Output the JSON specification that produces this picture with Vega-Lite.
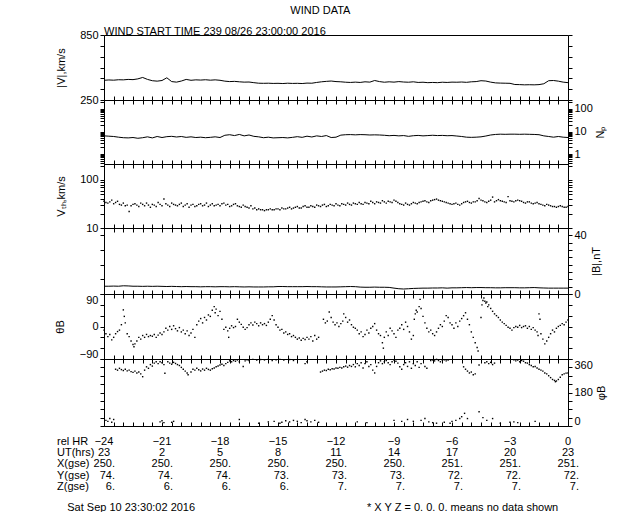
{
"$schema": "https://vega.github.io/schema/vega-lite/v6.json",
"autosize": {"type": "pad"},
"padding": {"left": 53, "top": 4, "right": 5, "bottom": 0},
"background": "white",
"title": {"text": "WIND DATA", "anchor": "middle", "fontSize": 11, "offset": 10, "dx": -10},
"spacing": 0,
"bounds": "flush",
"config": {
  "view": {"stroke": "black", "strokeWidth": 1},
  "font": "Liberation Sans",
  "axis": {"grid": false, "domain": false, "tickColor": "black", "labelColor": "black", "titleColor": "black", "labelFontSize": 11, "titleFontSize": 11, "titleFontWeight": "normal", "tickSize": 4, "labelPadding": 2, "labelFont": "Liberation Sans", "titleFont": "Liberation Sans", "labelOverlap": false},
  "title": {"font": "Liberation Sans", "fontSize": 11, "fontWeight": "normal", "color": "black"},
  "text": {"font": "Liberation Sans", "fontSize": 11, "color": "black"}
},
"datasets": {
  "V": [{"t":-24,"v":432},{"t":-23.75,"v":435},{"t":-23.5,"v":433},{"t":-23.25,"v":437},{"t":-23,"v":436},{"t":-22.75,"v":440},{"t":-22.5,"v":438},{"t":-22.25,"v":445},{"t":-22,"v":458},{"t":-21.75,"v":440},{"t":-21.5,"v":428},{"t":-21.25,"v":424},{"t":-21,"v":430},{"t":-20.75,"v":455},{"t":-20.5,"v":420},{"t":-20.25,"v":415},{"t":-20,"v":425},{"t":-19.75,"v":440},{"t":-19.5,"v":432},{"t":-19.25,"v":436},{"t":-19,"v":434},{"t":-18.75,"v":437},{"t":-18.5,"v":433},{"t":-18.25,"v":436},{"t":-18,"v":432},{"t":-17.75,"v":424},{"t":-17.5,"v":420},{"t":-17.25,"v":422},{"t":-17,"v":418},{"t":-16.75,"v":415},{"t":-16.5,"v":416},{"t":-16.25,"v":410},{"t":-16,"v":405},{"t":-15.75,"v":404},{"t":-15.5,"v":405},{"t":-15.25,"v":403},{"t":-15,"v":404},{"t":-14.75,"v":402},{"t":-14.5,"v":405},{"t":-14.25,"v":403},{"t":-14,"v":404},{"t":-13.75,"v":402},{"t":-13.5,"v":406},{"t":-13.25,"v":405},{"t":-13,"v":412},{"t":-12.75,"v":418},{"t":-12.5,"v":422},{"t":-12.25,"v":425},{"t":-12,"v":420},{"t":-11.75,"v":418},{"t":-11.5,"v":414},{"t":-11.25,"v":412},{"t":-11,"v":415},{"t":-10.75,"v":412},{"t":-10.5,"v":418},{"t":-10.25,"v":415},{"t":-10,"v":430},{"t":-9.75,"v":420},{"t":-9.5,"v":414},{"t":-9.25,"v":418},{"t":-9,"v":415},{"t":-8.75,"v":420},{"t":-8.5,"v":416},{"t":-8.25,"v":414},{"t":-8,"v":418},{"t":-7.75,"v":412},{"t":-7.5,"v":414},{"t":-7.25,"v":410},{"t":-7,"v":412},{"t":-6.75,"v":410},{"t":-6.5,"v":414},{"t":-6.25,"v":412},{"t":-6,"v":415},{"t":-5.75,"v":414},{"t":-5.5,"v":416},{"t":-5.25,"v":413},{"t":-5,"v":418},{"t":-4.75,"v":420},{"t":-4.5,"v":428},{"t":-4.25,"v":425},{"t":-4,"v":415},{"t":-3.75,"v":408},{"t":-3.5,"v":406},{"t":-3.25,"v":405},{"t":-3,"v":404},{"t":-2.75,"v":393},{"t":-2.5,"v":392},{"t":-2.25,"v":390},{"t":-2,"v":391},{"t":-1.75,"v":390},{"t":-1.5,"v":392},{"t":-1.25,"v":400},{"t":-1,"v":428},{"t":-0.75,"v":430},{"t":-0.5,"v":424},{"t":-0.25,"v":415},{"t":0,"v":410}],
  "Np": [{"t":-24,"v":6.4},{"t":-23.75,"v":6.2},{"t":-23.5,"v":6.0},{"t":-23.25,"v":5.6},{"t":-23,"v":5.3},{"t":-22.75,"v":5.2},{"t":-22.5,"v":5.4},{"t":-22.25,"v":5.0},{"t":-22,"v":5.3},{"t":-21.75,"v":5.8},{"t":-21.5,"v":5.2},{"t":-21.25,"v":6.0},{"t":-21,"v":5.4},{"t":-20.75,"v":5.9},{"t":-20.5,"v":6.1},{"t":-20.25,"v":5.7},{"t":-20,"v":6.0},{"t":-19.75,"v":5.5},{"t":-19.5,"v":5.8},{"t":-19.25,"v":5.4},{"t":-19,"v":5.6},{"t":-18.75,"v":5.3},{"t":-18.5,"v":5.5},{"t":-18.25,"v":5.8},{"t":-18,"v":5.4},{"t":-17.75,"v":6.8},{"t":-17.5,"v":7.2},{"t":-17.25,"v":6.6},{"t":-17,"v":7.4},{"t":-16.75,"v":6.4},{"t":-16.5,"v":7.0},{"t":-16.25,"v":6.1},{"t":-16,"v":5.8},{"t":-15.75,"v":5.3},{"t":-15.5,"v":5.6},{"t":-15.25,"v":5.2},{"t":-15,"v":5.3},{"t":-14.75,"v":5.4},{"t":-14.5,"v":5.2},{"t":-14.25,"v":5.5},{"t":-14,"v":5.9},{"t":-13.75,"v":5.5},{"t":-13.5,"v":6.2},{"t":-13.25,"v":5.7},{"t":-13,"v":6.4},{"t":-12.75,"v":6.0},{"t":-12.5,"v":6.6},{"t":-12.25,"v":5.4},{"t":-12,"v":5.6},{"t":-11.75,"v":6.9},{"t":-11.5,"v":7.2},{"t":-11.25,"v":7.3},{"t":-11,"v":7.1},{"t":-10.75,"v":7.3},{"t":-10.5,"v":7.2},{"t":-10.25,"v":7.0},{"t":-10,"v":7.1},{"t":-9.75,"v":7.0},{"t":-9.5,"v":6.8},{"t":-9.25,"v":6.5},{"t":-9,"v":6.7},{"t":-8.75,"v":6.4},{"t":-8.5,"v":6.6},{"t":-8.25,"v":6.1},{"t":-8,"v":6.5},{"t":-7.75,"v":6.7},{"t":-7.5,"v":6.4},{"t":-7.25,"v":6.6},{"t":-7,"v":6.8},{"t":-6.75,"v":6.6},{"t":-6.5,"v":6.7},{"t":-6.25,"v":6.5},{"t":-6,"v":6.6},{"t":-5.75,"v":6.3},{"t":-5.5,"v":6.0},{"t":-5.25,"v":5.6},{"t":-5,"v":5.5},{"t":-4.75,"v":5.6},{"t":-4.5,"v":5.8},{"t":-4.25,"v":6.3},{"t":-4,"v":7.0},{"t":-3.75,"v":7.4},{"t":-3.5,"v":7.6},{"t":-3.25,"v":7.5},{"t":-3,"v":7.6},{"t":-2.75,"v":7.6},{"t":-2.5,"v":7.5},{"t":-2.25,"v":7.6},{"t":-2,"v":7.5},{"t":-1.75,"v":7.4},{"t":-1.5,"v":7.2},{"t":-1.25,"v":6.4},{"t":-1,"v":6.0},{"t":-0.75,"v":5.6},{"t":-0.5,"v":6.0},{"t":-0.25,"v":5.6},{"t":0,"v":5.4}],
  "Vth": [{"t":-24,"v":36},{"t":-23.9,"v":34},{"t":-23.8,"v":33},{"t":-23.7,"v":35},{"t":-23.6,"v":38},{"t":-23.5,"v":32},{"t":-23.4,"v":34},{"t":-23.3,"v":36},{"t":-23.2,"v":31},{"t":-23.1,"v":30},{"t":-23,"v":33},{"t":-22.9,"v":29},{"t":-22.8,"v":30},{"t":-22.7,"v":22},{"t":-22.6,"v":29},{"t":-22.5,"v":31},{"t":-22.4,"v":32},{"t":-22.3,"v":30},{"t":-22.2,"v":28},{"t":-22.1,"v":33},{"t":-22,"v":31},{"t":-21.9,"v":29},{"t":-21.8,"v":33},{"t":-21.7,"v":30},{"t":-21.6,"v":27},{"t":-21.5,"v":31},{"t":-21.4,"v":30},{"t":-21.3,"v":28},{"t":-21.2,"v":34},{"t":-21.1,"v":31},{"t":-21,"v":29},{"t":-20.9,"v":40},{"t":-20.8,"v":32},{"t":-20.7,"v":30},{"t":-20.6,"v":28},{"t":-20.5,"v":33},{"t":-20.4,"v":31},{"t":-20.3,"v":30},{"t":-20.2,"v":29},{"t":-20.1,"v":31},{"t":-20,"v":33},{"t":-19.9,"v":28},{"t":-19.8,"v":30},{"t":-19.7,"v":32},{"t":-19.6,"v":27},{"t":-19.5,"v":30},{"t":-19.4,"v":31},{"t":-19.3,"v":28},{"t":-19.2,"v":29},{"t":-19.1,"v":31},{"t":-19,"v":32},{"t":-18.9,"v":29},{"t":-18.8,"v":30},{"t":-18.7,"v":33},{"t":-18.6,"v":28},{"t":-18.5,"v":30},{"t":-18.4,"v":32},{"t":-18.3,"v":29},{"t":-18.2,"v":30},{"t":-18.1,"v":31},{"t":-18,"v":29},{"t":-17.9,"v":32},{"t":-17.8,"v":33},{"t":-17.7,"v":30},{"t":-17.6,"v":31},{"t":-17.5,"v":28},{"t":-17.4,"v":29},{"t":-17.3,"v":31},{"t":-17.2,"v":32},{"t":-17.1,"v":29},{"t":-17,"v":28},{"t":-16.9,"v":27},{"t":-16.8,"v":30},{"t":-16.7,"v":28},{"t":-16.6,"v":27},{"t":-16.5,"v":26},{"t":-16.4,"v":29},{"t":-16.3,"v":25},{"t":-16.2,"v":26},{"t":-16.1,"v":24},{"t":-16,"v":25},{"t":-15.9,"v":24},{"t":-15.8,"v":24},{"t":-15.7,"v":23},{"t":-15.6,"v":24},{"t":-15.5,"v":24},{"t":-15.4,"v":25},{"t":-15.3,"v":24},{"t":-15.2,"v":24},{"t":-15.1,"v":25},{"t":-15,"v":25},{"t":-14.9,"v":24},{"t":-14.8,"v":26},{"t":-14.7,"v":25},{"t":-14.6,"v":25},{"t":-14.5,"v":26},{"t":-14.4,"v":27},{"t":-14.3,"v":25},{"t":-14.2,"v":26},{"t":-14.1,"v":27},{"t":-14,"v":28},{"t":-13.9,"v":26},{"t":-13.8,"v":26},{"t":-13.7,"v":28},{"t":-13.6,"v":29},{"t":-13.5,"v":27},{"t":-13.4,"v":27},{"t":-13.3,"v":29},{"t":-13.2,"v":28},{"t":-13.1,"v":27},{"t":-13,"v":30},{"t":-12.9,"v":29},{"t":-12.8,"v":28},{"t":-12.7,"v":30},{"t":-12.6,"v":31},{"t":-12.5,"v":28},{"t":-12.4,"v":29},{"t":-12.3,"v":31},{"t":-12.2,"v":30},{"t":-12.1,"v":29},{"t":-12,"v":32},{"t":-11.9,"v":30},{"t":-11.8,"v":29},{"t":-11.7,"v":32},{"t":-11.6,"v":31},{"t":-11.5,"v":30},{"t":-11.4,"v":33},{"t":-11.3,"v":31},{"t":-11.2,"v":30},{"t":-11.1,"v":33},{"t":-11,"v":32},{"t":-10.9,"v":31},{"t":-10.8,"v":34},{"t":-10.7,"v":32},{"t":-10.6,"v":31},{"t":-10.5,"v":34},{"t":-10.4,"v":33},{"t":-10.3,"v":32},{"t":-10.2,"v":36},{"t":-10.1,"v":34},{"t":-10,"v":32},{"t":-9.9,"v":35},{"t":-9.8,"v":34},{"t":-9.7,"v":33},{"t":-9.6,"v":37},{"t":-9.5,"v":35},{"t":-9.4,"v":33},{"t":-9.3,"v":36},{"t":-9.2,"v":35},{"t":-9.1,"v":34},{"t":-9,"v":38},{"t":-8.9,"v":36},{"t":-8.8,"v":34},{"t":-8.7,"v":32},{"t":-8.6,"v":31},{"t":-8.5,"v":30},{"t":-8.4,"v":33},{"t":-8.3,"v":31},{"t":-8.2,"v":30},{"t":-8.1,"v":32},{"t":-8,"v":34},{"t":-7.9,"v":33},{"t":-7.8,"v":32},{"t":-7.7,"v":34},{"t":-7.6,"v":35},{"t":-7.5,"v":36},{"t":-7.4,"v":37},{"t":-7.3,"v":35},{"t":-7.2,"v":34},{"t":-7.1,"v":37},{"t":-7,"v":38},{"t":-6.9,"v":39},{"t":-6.8,"v":40},{"t":-6.7,"v":38},{"t":-6.6,"v":37},{"t":-6.5,"v":36},{"t":-6.4,"v":35},{"t":-6.3,"v":34},{"t":-6.2,"v":33},{"t":-6.1,"v":32},{"t":-6,"v":31},{"t":-5.9,"v":32},{"t":-5.8,"v":33},{"t":-5.7,"v":31},{"t":-5.6,"v":30},{"t":-5.5,"v":32},{"t":-5.4,"v":34},{"t":-5.3,"v":35},{"t":-5.2,"v":36},{"t":-5.1,"v":34},{"t":-5,"v":33},{"t":-4.9,"v":35},{"t":-4.8,"v":35},{"t":-4.7,"v":37},{"t":-4.6,"v":41},{"t":-4.5,"v":38},{"t":-4.4,"v":37},{"t":-4.3,"v":35},{"t":-4.2,"v":34},{"t":-4.1,"v":36},{"t":-4,"v":38},{"t":-3.9,"v":44},{"t":-3.8,"v":35},{"t":-3.7,"v":37},{"t":-3.6,"v":39},{"t":-3.5,"v":37},{"t":-3.4,"v":36},{"t":-3.3,"v":35},{"t":-3.2,"v":34},{"t":-3.1,"v":45},{"t":-3,"v":37},{"t":-2.9,"v":36},{"t":-2.8,"v":35},{"t":-2.7,"v":37},{"t":-2.6,"v":38},{"t":-2.5,"v":37},{"t":-2.4,"v":36},{"t":-2.3,"v":34},{"t":-2.2,"v":33},{"t":-2.1,"v":35},{"t":-2,"v":35},{"t":-1.9,"v":33},{"t":-1.8,"v":32},{"t":-1.7,"v":33},{"t":-1.6,"v":34},{"t":-1.5,"v":32},{"t":-1.4,"v":31},{"t":-1.3,"v":30},{"t":-1.2,"v":29},{"t":-1.1,"v":31},{"t":-1,"v":30},{"t":-0.9,"v":29},{"t":-0.8,"v":28},{"t":-0.7,"v":28},{"t":-0.6,"v":27},{"t":-0.5,"v":28},{"t":-0.4,"v":29},{"t":-0.3,"v":28},{"t":-0.2,"v":27},{"t":-0.1,"v":27},{"t":0,"v":28}],
  "B": [{"t":-24,"v":5.3},{"t":-23.75,"v":5.3},{"t":-23.5,"v":5.4},{"t":-23.25,"v":5.3},{"t":-23,"v":5.6},{"t":-22.75,"v":5.5},{"t":-22.5,"v":5.3},{"t":-22.25,"v":5.3},{"t":-22,"v":5.2},{"t":-21.75,"v":5.3},{"t":-21.5,"v":5.2},{"t":-21.25,"v":5.3},{"t":-21,"v":5.2},{"t":-20.75,"v":5.1},{"t":-20.5,"v":5.2},{"t":-20.25,"v":5.1},{"t":-20,"v":5.0},{"t":-19.75,"v":5.1},{"t":-19.5,"v":5.0},{"t":-19.25,"v":5.0},{"t":-19,"v":4.9},{"t":-18.75,"v":5.0},{"t":-18.5,"v":5.0},{"t":-18.25,"v":4.9},{"t":-18,"v":5.0},{"t":-17.75,"v":5.0},{"t":-17.5,"v":4.9},{"t":-17.25,"v":5.0},{"t":-17,"v":4.9},{"t":-16.75,"v":4.8},{"t":-16.5,"v":4.9},{"t":-16.25,"v":4.8},{"t":-16,"v":4.8},{"t":-15.75,"v":4.8},{"t":-15.5,"v":4.9},{"t":-15.25,"v":4.9},{"t":-15,"v":5.1},{"t":-14.75,"v":5.1},{"t":-14.5,"v":5.0},{"t":-14.25,"v":5.0},{"t":-14,"v":5.0},{"t":-13.75,"v":5.0},{"t":-13.5,"v":5.1},{"t":-13.25,"v":5.0},{"t":-13,"v":5.0},{"t":-12.75,"v":4.9},{"t":-12.5,"v":4.8},{"t":-12.25,"v":4.8},{"t":-12,"v":4.8},{"t":-11.75,"v":4.9},{"t":-11.5,"v":5.0},{"t":-11.25,"v":5.1},{"t":-11,"v":5.0},{"t":-10.75,"v":4.7},{"t":-10.5,"v":4.6},{"t":-10.25,"v":4.6},{"t":-10,"v":4.7},{"t":-9.75,"v":4.6},{"t":-9.5,"v":4.6},{"t":-9.25,"v":4.5},{"t":-9,"v":4.0},{"t":-8.75,"v":3.6},{"t":-8.5,"v":3.4},{"t":-8.25,"v":3.6},{"t":-8,"v":3.8},{"t":-7.75,"v":3.9},{"t":-7.5,"v":4.0},{"t":-7.25,"v":4.0},{"t":-7,"v":4.1},{"t":-6.75,"v":4.1},{"t":-6.5,"v":4.2},{"t":-6.25,"v":4.0},{"t":-6,"v":4.2},{"t":-5.75,"v":4.2},{"t":-5.5,"v":4.3},{"t":-5.25,"v":4.4},{"t":-5,"v":4.3},{"t":-4.75,"v":4.4},{"t":-4.5,"v":4.4},{"t":-4.25,"v":4.3},{"t":-4,"v":4.3},{"t":-3.75,"v":4.2},{"t":-3.5,"v":4.2},{"t":-3.25,"v":4.3},{"t":-3,"v":4.3},{"t":-2.75,"v":4.3},{"t":-2.5,"v":4.2},{"t":-2.25,"v":4.2},{"t":-2,"v":4.3},{"t":-1.75,"v":4.4},{"t":-1.5,"v":4.2},{"t":-1.25,"v":4.1},{"t":-1,"v":4.0},{"t":-0.75,"v":4.0},{"t":-0.5,"v":4.0},{"t":-0.25,"v":4.0},{"t":0,"v":4.0}],
  "TH": [{"t":-24,"v":-10},{"t":-23.9,"v":-20},{"t":-23.8,"v":-28},{"t":-23.7,"v":-22},{"t":-23.6,"v":-37},{"t":-23.5,"v":-30},{"t":-23.4,"v":-20},{"t":-23.3,"v":-14},{"t":-23.2,"v":-10},{"t":-23.1,"v":5},{"t":-23,"v":46},{"t":-22.95,"v":28},{"t":-22.9,"v":10},{"t":-22.8,"v":-20},{"t":-22.7,"v":-28},{"t":-22.6,"v":-40},{"t":-22.5,"v":-50},{"t":-22.45,"v":-56},{"t":-22.4,"v":-48},{"t":-22.3,"v":-40},{"t":-22.2,"v":-30},{"t":-22.1,"v":-35},{"t":-22,"v":-25},{"t":-21.9,"v":-30},{"t":-21.8,"v":-22},{"t":-21.7,"v":-28},{"t":-21.6,"v":-25},{"t":-21.5,"v":-27},{"t":-21.4,"v":-22},{"t":-21.3,"v":-30},{"t":-21.2,"v":-24},{"t":-21.1,"v":-18},{"t":-21,"v":-22},{"t":-20.9,"v":-15},{"t":-20.8,"v":-5},{"t":-20.7,"v":-10},{"t":-20.6,"v":0},{"t":-20.5,"v":-8},{"t":-20.4,"v":2},{"t":-20.3,"v":-6},{"t":-20.2,"v":-12},{"t":-20.1,"v":-3},{"t":-20,"v":-15},{"t":-19.9,"v":-10},{"t":-19.8,"v":-20},{"t":-19.7,"v":-12},{"t":-19.6,"v":-25},{"t":-19.5,"v":-18},{"t":-19.4,"v":-8},{"t":-19.3,"v":-30},{"t":-19.2,"v":5},{"t":-19.1,"v":15},{"t":-19,"v":22},{"t":-18.9,"v":10},{"t":-18.8,"v":25},{"t":-18.7,"v":18},{"t":-18.6,"v":32},{"t":-18.5,"v":28},{"t":-18.4,"v":45},{"t":-18.3,"v":55},{"t":-18.25,"v":38},{"t":-18.2,"v":48},{"t":-18.1,"v":30},{"t":-18,"v":42},{"t":-17.9,"v":20},{"t":-17.8,"v":-8},{"t":-17.7,"v":-2},{"t":-17.6,"v":-12},{"t":-17.55,"v":-30},{"t":-17.5,"v":-5},{"t":-17.4,"v":2},{"t":-17.3,"v":-3},{"t":-17.2,"v":0},{"t":-17.1,"v":20},{"t":-17,"v":12},{"t":-16.9,"v":6},{"t":-16.8,"v":-2},{"t":-16.7,"v":-8},{"t":-16.6,"v":-3},{"t":-16.5,"v":5},{"t":-16.4,"v":10},{"t":-16.3,"v":4},{"t":-16.2,"v":12},{"t":-16.1,"v":8},{"t":-16,"v":2},{"t":-15.9,"v":10},{"t":-15.8,"v":5},{"t":-15.7,"v":8},{"t":-15.6,"v":3},{"t":-15.5,"v":12},{"t":-15.4,"v":20},{"t":-15.3,"v":30},{"t":-15.2,"v":18},{"t":-15.1,"v":5},{"t":-15,"v":-2},{"t":-14.9,"v":-10},{"t":-14.8,"v":-8},{"t":-14.7,"v":-18},{"t":-14.6,"v":-15},{"t":-14.5,"v":-22},{"t":-14.4,"v":-20},{"t":-14.3,"v":-28},{"t":-14.2,"v":-25},{"t":-14.1,"v":-30},{"t":-14,"v":-35},{"t":-13.9,"v":-32},{"t":-13.8,"v":-38},{"t":-13.7,"v":-33},{"t":-13.6,"v":-36},{"t":-13.5,"v":-30},{"t":-13.4,"v":-35},{"t":-13.3,"v":-28},{"t":-13.2,"v":-40},{"t":-13.1,"v":-25},{"t":-13,"v":-35},{"t":-12.9,"v":-30},{"t":-12.65,"v":20},{"t":-12.55,"v":10},{"t":-12.45,"v":15},{"t":-12.35,"v":40},{"t":-12.25,"v":25},{"t":-12.15,"v":12},{"t":-12.05,"v":5},{"t":-11.95,"v":10},{"t":-11.85,"v":0},{"t":-11.75,"v":8},{"t":-11.65,"v":15},{"t":-11.6,"v":35},{"t":-11.5,"v":25},{"t":-11.4,"v":12},{"t":-11.3,"v":18},{"t":-11.2,"v":5},{"t":-11.1,"v":-2},{"t":-11,"v":-5},{"t":-10.9,"v":-10},{"t":-10.8,"v":-20},{"t":-10.7,"v":-15},{"t":-10.6,"v":-28},{"t":-10.5,"v":-22},{"t":-10.4,"v":-10},{"t":-10.3,"v":-18},{"t":-10.2,"v":-5},{"t":-10.1,"v":0},{"t":-10,"v":8},{"t":-9.9,"v":-10},{"t":-9.8,"v":-20},{"t":-9.7,"v":-25},{"t":-9.6,"v":-45},{"t":-9.55,"v":-60},{"t":-9.5,"v":-30},{"t":-9.4,"v":-15},{"t":-9.3,"v":-25},{"t":-9.2,"v":-5},{"t":-9.1,"v":-12},{"t":-9,"v":-20},{"t":-8.9,"v":-30},{"t":-8.8,"v":-10},{"t":-8.7,"v":-5},{"t":-8.6,"v":5},{"t":-8.5,"v":-8},{"t":-8.4,"v":12},{"t":-8.3,"v":0},{"t":-8.2,"v":-15},{"t":-8.1,"v":-35},{"t":-8,"v":-25},{"t":-7.95,"v":20},{"t":-7.9,"v":35},{"t":-7.85,"v":45},{"t":-7.8,"v":40},{"t":-7.7,"v":55},{"t":-7.65,"v":75},{"t":-7.6,"v":50},{"t":-7.5,"v":28},{"t":-7.4,"v":10},{"t":-7.3,"v":-5},{"t":-7.2,"v":-15},{"t":-7.1,"v":-10},{"t":-7,"v":-20},{"t":-6.9,"v":-25},{"t":-6.8,"v":-15},{"t":-6.7,"v":-5},{"t":-6.6,"v":5},{"t":-6.5,"v":0},{"t":-6.4,"v":15},{"t":-6.3,"v":30},{"t":-6.2,"v":25},{"t":-6.1,"v":10},{"t":-6,"v":5},{"t":-5.9,"v":-5},{"t":-5.8,"v":10},{"t":-5.7,"v":0},{"t":-5.6,"v":15},{"t":-5.5,"v":22},{"t":-5.4,"v":30},{"t":-5.3,"v":38},{"t":-5.2,"v":20},{"t":-5.1,"v":5},{"t":-5,"v":-15},{"t":-4.9,"v":-30},{"t":-4.8,"v":-45},{"t":-4.7,"v":-58},{"t":-4.65,"v":-68},{"t":-4.5,"v":25},{"t":-4.45,"v":60},{"t":-4.4,"v":72},{"t":-4.35,"v":79},{"t":-4.3,"v":70},{"t":-4.25,"v":65},{"t":-4.2,"v":68},{"t":-4.15,"v":55},{"t":-4.1,"v":60},{"t":-4,"v":50},{"t":-3.9,"v":42},{"t":-3.8,"v":35},{"t":-3.7,"v":30},{"t":-3.6,"v":25},{"t":-3.5,"v":18},{"t":-3.4,"v":12},{"t":-3.3,"v":8},{"t":-3.2,"v":3},{"t":-3.1,"v":-2},{"t":-3,"v":-5},{"t":-2.9,"v":-10},{"t":-2.8,"v":-3},{"t":-2.7,"v":0},{"t":-2.6,"v":-2},{"t":-2.5,"v":3},{"t":-2.4,"v":-3},{"t":-2.3,"v":0},{"t":-2.2,"v":2},{"t":-2.1,"v":-5},{"t":-2,"v":0},{"t":-1.9,"v":-8},{"t":-1.8,"v":-3},{"t":-1.7,"v":-10},{"t":-1.6,"v":-15},{"t":-1.55,"v":-25},{"t":-1.5,"v":35},{"t":-1.45,"v":20},{"t":-1.4,"v":-20},{"t":-1.3,"v":-35},{"t":-1.2,"v":-48},{"t":-1.1,"v":-40},{"t":-1,"v":-30},{"t":-0.9,"v":-20},{"t":-0.8,"v":-10},{"t":-0.7,"v":-15},{"t":-0.6,"v":-5},{"t":-0.5,"v":0},{"t":-0.4,"v":3},{"t":-0.3,"v":8},{"t":-0.2,"v":5},{"t":-0.1,"v":12},{"t":0,"v":18}],
  "PH": [{"t":-23.4,"v":305},{"t":-23.3,"v":300},{"t":-23.2,"v":310},{"t":-23.1,"v":303},{"t":-23,"v":298},{"t":-22.9,"v":305},{"t":-22.8,"v":296},{"t":-22.7,"v":300},{"t":-22.6,"v":292},{"t":-22.5,"v":288},{"t":-22.4,"v":295},{"t":-22.3,"v":285},{"t":-22.2,"v":290},{"t":-22.1,"v":280},{"t":-22,"v":265},{"t":-21.9,"v":300},{"t":-21.8,"v":318},{"t":-21.7,"v":310},{"t":-21.6,"v":330},{"t":-21.5,"v":322},{"t":-21.4,"v":338},{"t":-21.3,"v":345},{"t":-21.2,"v":335},{"t":-21.1,"v":345},{"t":-21,"v":340},{"t":-20.9,"v":330},{"t":-20.85,"v":283},{"t":-20.7,"v":345},{"t":-20.6,"v":338},{"t":-20.5,"v":332},{"t":-20.4,"v":342},{"t":-20.3,"v":336},{"t":-20.2,"v":330},{"t":-20.1,"v":325},{"t":-20,"v":315},{"t":-19.9,"v":305},{"t":-19.8,"v":295},{"t":-19.7,"v":285},{"t":-19.65,"v":275},{"t":-19.5,"v":290},{"t":-19.4,"v":305},{"t":-19.3,"v":300},{"t":-19.2,"v":310},{"t":-19.1,"v":302},{"t":-19,"v":296},{"t":-18.9,"v":306},{"t":-18.8,"v":300},{"t":-18.7,"v":310},{"t":-18.6,"v":304},{"t":-18.5,"v":300},{"t":-18.4,"v":308},{"t":-18.3,"v":312},{"t":-18.2,"v":318},{"t":-18.1,"v":322},{"t":-18,"v":328},{"t":-17.9,"v":332},{"t":-17.8,"v":325},{"t":-17.7,"v":335},{"t":-17.6,"v":342},{"t":-17.5,"v":350},{"t":-17.4,"v":345},{"t":-17.3,"v":352},{"t":-17.2,"v":348},{"t":-17.1,"v":355},{"t":-17,"v":345},{"t":-16.8,"v":320},{"t":-16.7,"v":350},{"t":-16.6,"v":356},{"t":-16.5,"v":352},{"t":-16.3,"v":358},{"t":-16.1,"v":354},{"t":-15.9,"v":357},{"t":-15.7,"v":355},{"t":-15.5,"v":358},{"t":-15.3,"v":352},{"t":-15.1,"v":356},{"t":-14.9,"v":358},{"t":-14.7,"v":355},{"t":-14.4,"v":357},{"t":-14.2,"v":352},{"t":-13.6,"v":335},{"t":-13.5,"v":345},{"t":-12.8,"v":290},{"t":-12.7,"v":295},{"t":-12.6,"v":300},{"t":-12.5,"v":298},{"t":-12.4,"v":305},{"t":-12.3,"v":302},{"t":-12.2,"v":308},{"t":-12.1,"v":306},{"t":-12,"v":312},{"t":-11.9,"v":310},{"t":-11.8,"v":315},{"t":-11.7,"v":312},{"t":-11.6,"v":318},{"t":-11.5,"v":322},{"t":-11.4,"v":316},{"t":-11.3,"v":325},{"t":-11.2,"v":320},{"t":-11.1,"v":330},{"t":-11,"v":318},{"t":-10.9,"v":335},{"t":-10.8,"v":325},{"t":-10.7,"v":340},{"t":-10.6,"v":312},{"t":-10.5,"v":335},{"t":-10.4,"v":345},{"t":-10.3,"v":320},{"t":-10.2,"v":330},{"t":-10.1,"v":300},{"t":-10,"v":285},{"t":-9.9,"v":320},{"t":-9.8,"v":340},{"t":-9.7,"v":350},{"t":-9.6,"v":335},{"t":-9.5,"v":345},{"t":-9.4,"v":352},{"t":-9.3,"v":340},{"t":-9.2,"v":330},{"t":-9.1,"v":345},{"t":-9,"v":355},{"t":-8.9,"v":348},{"t":-8.8,"v":338},{"t":-8.7,"v":318},{"t":-8.6,"v":305},{"t":-8.5,"v":330},{"t":-8.4,"v":340},{"t":-8.3,"v":320},{"t":-8.2,"v":345},{"t":-8.1,"v":310},{"t":-8,"v":335},{"t":-7.9,"v":325},{"t":-7.8,"v":345},{"t":-7.7,"v":315},{"t":-7.6,"v":335},{"t":-7.4,"v":320},{"t":-7.3,"v":310},{"t":-7.1,"v":352},{"t":-7,"v":355},{"t":-6.9,"v":350},{"t":-6.8,"v":358},{"t":-6.7,"v":352},{"t":-6.6,"v":345},{"t":-6.5,"v":354},{"t":-6.4,"v":356},{"t":-6.3,"v":350},{"t":-6.2,"v":355},{"t":-5.4,"v":318},{"t":-5.3,"v":305},{"t":-5.2,"v":295},{"t":-5.1,"v":285},{"t":-5,"v":290},{"t":-4.9,"v":275},{"t":-4.8,"v":280},{"t":-4.6,"v":328},{"t":-4.3,"v":340},{"t":-4.2,"v":345},{"t":-4.1,"v":335},{"t":-4,"v":342},{"t":-3.9,"v":330},{"t":-3.8,"v":338},{"t":-2.8,"v":356},{"t":-2.7,"v":350},{"t":-2.6,"v":354},{"t":-2.5,"v":345},{"t":-2.4,"v":352},{"t":-2.3,"v":348},{"t":-2.2,"v":340},{"t":-2.1,"v":338},{"t":-2,"v":330},{"t":-1.9,"v":325},{"t":-1.8,"v":318},{"t":-1.7,"v":320},{"t":-1.6,"v":312},{"t":-1.5,"v":305},{"t":-1.4,"v":300},{"t":-1.3,"v":295},{"t":-1.2,"v":285},{"t":-1.1,"v":280},{"t":-1,"v":270},{"t":-0.9,"v":260},{"t":-0.8,"v":250},{"t":-0.7,"v":245},{"t":-0.65,"v":238},{"t":-0.6,"v":242},{"t":-0.5,"v":250},{"t":-0.4,"v":262},{"t":-0.3,"v":275},{"t":-0.2,"v":280},{"t":-0.1,"v":284},{"t":0,"v":285},{"t":-23.9,"v":30},{"t":-23.8,"v":25},{"t":-23.7,"v":40},{"t":-23.6,"v":20},{"t":-23.5,"v":35},{"t":-21.1,"v":22},{"t":-21,"v":28},{"t":-20.9,"v":18},{"t":-20.5,"v":20},{"t":-20.4,"v":25},{"t":-17,"v":35},{"t":-16,"v":15},{"t":-15.5,"v":22},{"t":-15.2,"v":25},{"t":-14.9,"v":15},{"t":-14.8,"v":20},{"t":-14.6,"v":28},{"t":-14.4,"v":22},{"t":-14.2,"v":30},{"t":-14,"v":25},{"t":-13.8,"v":18},{"t":-13.6,"v":35},{"t":-13.5,"v":28},{"t":-13.3,"v":22},{"t":-13.1,"v":30},{"t":-12.9,"v":20},{"t":-10.9,"v":22},{"t":-10.4,"v":18},{"t":-9,"v":30},{"t":-8.6,"v":25},{"t":-8.3,"v":35},{"t":-8,"v":25},{"t":-7.6,"v":30},{"t":-7.4,"v":40},{"t":-7.2,"v":22},{"t":-7,"v":18},{"t":-6.8,"v":15},{"t":-6.4,"v":20},{"t":-6.1,"v":15},{"t":-6,"v":25},{"t":-5.8,"v":30},{"t":-5.6,"v":40},{"t":-5.5,"v":50},{"t":-5.35,"v":68},{"t":-5.2,"v":40},{"t":-4.6,"v":77},{"t":-4.4,"v":45},{"t":-4.2,"v":30},{"t":-3.9,"v":40},{"t":-3.5,"v":15},{"t":-3,"v":20},{"t":-2.8,"v":22},{"t":-2.6,"v":18},{"t":-1.7,"v":25}],
  "tbl": [{"t":-24,"r":0,"s":"−24"},{"t":-21,"r":0,"s":"−21"},{"t":-18,"r":0,"s":"−18"},{"t":-15,"r":0,"s":"−15"},{"t":-12,"r":0,"s":"−12"},{"t":-9,"r":0,"s":"−9"},{"t":-6,"r":0,"s":"−6"},{"t":-3,"r":0,"s":"−3"},{"t":0,"r":0,"s":"0"},
    {"t":-24,"r":1,"s":"23"},{"t":-21,"r":1,"s":"2"},{"t":-18,"r":1,"s":"5"},{"t":-15,"r":1,"s":"8"},{"t":-12,"r":1,"s":"11"},{"t":-9,"r":1,"s":"14"},{"t":-6,"r":1,"s":"17"},{"t":-3,"r":1,"s":"20"},{"t":0,"r":1,"s":"23"},
    {"t":-24,"r":2,"s":"250."},{"t":-21,"r":2,"s":"250."},{"t":-18,"r":2,"s":"250."},{"t":-15,"r":2,"s":"250."},{"t":-12,"r":2,"s":"250."},{"t":-9,"r":2,"s":"250."},{"t":-6,"r":2,"s":"251."},{"t":-3,"r":2,"s":"251."},{"t":0,"r":2,"s":"251."},
    {"t":-24,"r":3,"s":"74."},{"t":-21,"r":3,"s":"74."},{"t":-18,"r":3,"s":"74."},{"t":-15,"r":3,"s":"73."},{"t":-12,"r":3,"s":"73."},{"t":-9,"r":3,"s":"73."},{"t":-6,"r":3,"s":"72."},{"t":-3,"r":3,"s":"72."},{"t":0,"r":3,"s":"72."},
    {"t":-24,"r":4,"s":"6."},{"t":-21,"r":4,"s":"6."},{"t":-18,"r":4,"s":"6."},{"t":-15,"r":4,"s":"6."},{"t":-12,"r":4,"s":"7."},{"t":-9,"r":4,"s":"7."},{"t":-6,"r":4,"s":"7."},{"t":-3,"r":4,"s":"7."},{"t":0,"r":4,"s":"7."}],
  "rowlab": [{"r":0,"s":"rel HR"},{"r":1,"s":"UT(hrs)"},{"r":2,"s":"X(gse)"},{"r":3,"s":"Y(gse)"},{"r":4,"s":"Z(gse)"}],
  "notes": [{"t":-25.9,"r":5.87,"s":"Sat Sep 10 23:30:02 2016"},{"t":-10.4,"r":5.87,"s":"* X Y Z = 0. 0. 0. means no data shown"}]
},
"vconcat": [
  {
    "width": 464, "height": 65,
    "title": {"text": "WIND START TIME 239 08/26 23:00:00 2016", "anchor": "start", "offset": -8, "frame": "group"},
    "data": {"name": "V"},
    "layer": [
      {"mark": {"type": "line", "color": "black", "strokeWidth": 1},
       "encoding": {
         "x": {"field": "t", "type": "quantitative", "scale": {"domain": [-24, 0], "nice": false, "zero": false}, "axis": {"orient": "bottom", "values": [-24,-23.5,-23,-22.5,-22,-21.5,-21,-20.5,-20,-19.5,-19,-18.5,-18,-17.5,-17,-16.5,-16,-15.5,-15,-14.5,-14,-13.5,-13,-12.5,-12,-11.5,-11,-10.5,-10,-9.5,-9,-8.5,-8,-7.5,-7,-6.5,-6,-5.5,-5,-4.5,-4,-3.5,-3,-2.5,-2,-1.5,-1,-0.5,0], "labels": false, "tickSize": -4, "title": null}},
         "y": {"field": "v", "type": "quantitative", "scale": {"domain": [250, 850], "nice": false, "zero": false}, "axis": {"orient": "left", "values": [250,350,450,550,650,750,850], "labelExpr": "datum.value==250||datum.value==850?format(datum.value,'d'):''", "title": "|V|,km/s", "titlePadding": 13}}
       }},
      {"mark": {"type": "line", "opacity": 0},
       "encoding": {
         "x": {"field": "t", "type": "quantitative", "scale": {"domain": [-24, 0], "nice": false, "zero": false}, "axis": null},
         "y": {"field": "v", "type": "quantitative", "scale": {"domain": [250, 850], "nice": false, "zero": false}, "axis": {"orient": "right", "values": [250,350,450,550,650,750,850], "labels": false, "title": null}}
       }}
    ],
    "resolve": {"axis": {"x": "independent", "y": "independent"}}
  },
  {
    "width": 464, "height": 64,
    "data": {"name": "Np"},
    "layer": [
      {"mark": {"type": "line", "color": "black", "strokeWidth": 1},
       "encoding": {
         "x": {"field": "t", "type": "quantitative", "scale": {"domain": [-24, 0], "nice": false, "zero": false}, "axis": {"orient": "bottom", "values": [-24,-23.5,-23,-22.5,-22,-21.5,-21,-20.5,-20,-19.5,-19,-18.5,-18,-17.5,-17,-16.5,-16,-15.5,-15,-14.5,-14,-13.5,-13,-12.5,-12,-11.5,-11,-10.5,-10,-9.5,-9,-8.5,-8,-7.5,-7,-6.5,-6,-5.5,-5,-4.5,-4,-3.5,-3,-2.5,-2,-1.5,-1,-0.5,0], "labels": false, "tickSize": -4, "title": null}},
         "y": {"field": "v", "type": "quantitative", "scale": {"type": "log", "domain": [0.36, 251], "nice": false}, "axis": {"orient": "left", "values": [0.4,0.5,0.6,0.7,0.8,0.9,1,2,3,4,5,6,7,8,9,10,20,30,40,50,60,70,80,90,100,200], "labels": false, "title": null}}
       }},
      {"mark": {"type": "line", "opacity": 0},
       "encoding": {
         "x": {"field": "t", "type": "quantitative", "scale": {"domain": [-24, 0], "nice": false, "zero": false}, "axis": {"orient": "top", "values": [-24,-23.5,-23,-22.5,-22,-21.5,-21,-20.5,-20,-19.5,-19,-18.5,-18,-17.5,-17,-16.5,-16,-15.5,-15,-14.5,-14,-13.5,-13,-12.5,-12,-11.5,-11,-10.5,-10,-9.5,-9,-8.5,-8,-7.5,-7,-6.5,-6,-5.5,-5,-4.5,-4,-3.5,-3,-2.5,-2,-1.5,-1,-0.5,0], "labels": false, "tickSize": -4, "title": null}},
         "y": {"field": "v", "type": "quantitative", "scale": {"type": "log", "domain": [0.36, 251], "nice": false}, "axis": {"orient": "right", "values": [0.4,0.5,0.6,0.7,0.8,0.9,1,2,3,4,5,6,7,8,9,10,20,30,40,50,60,70,80,90,100,200], "labelExpr": "datum.value==1||datum.value==10||datum.value==100?format(datum.value,'d'):''", "title": "Nₚ", "titleAngle": 270, "titlePadding": 13}}
       }}
    ],
    "resolve": {"axis": {"x": "independent", "y": "independent"}}
  },
  {
    "width": 464, "height": 64,
    "data": {"name": "Vth"},
    "layer": [
      {"mark": {"type": "square", "color": "black", "size": 2, "opacity": 1},
       "encoding": {
         "x": {"field": "t", "type": "quantitative", "scale": {"domain": [-24, 0], "nice": false, "zero": false}, "axis": {"orient": "bottom", "values": [-24,-23.5,-23,-22.5,-22,-21.5,-21,-20.5,-20,-19.5,-19,-18.5,-18,-17.5,-17,-16.5,-16,-15.5,-15,-14.5,-14,-13.5,-13,-12.5,-12,-11.5,-11,-10.5,-10,-9.5,-9,-8.5,-8,-7.5,-7,-6.5,-6,-5.5,-5,-4.5,-4,-3.5,-3,-2.5,-2,-1.5,-1,-0.5,0], "labels": false, "tickSize": -4, "title": null}},
         "y": {"field": "v", "type": "quantitative", "scale": {"type": "log", "domain": [10, 215], "nice": false}, "axis": {"orient": "left", "values": [10,20,30,40,50,60,70,80,90,100,200], "labelExpr": "datum.value==10||datum.value==100?format(datum.value,'d'):''", "title": "Vₜₕ,km/s", "titlePadding": 13}}
       }},
      {"mark": {"type": "square", "opacity": 0},
       "encoding": {
         "x": {"field": "t", "type": "quantitative", "scale": {"domain": [-24, 0], "nice": false, "zero": false}, "axis": {"orient": "top", "values": [-24,-23.5,-23,-22.5,-22,-21.5,-21,-20.5,-20,-19.5,-19,-18.5,-18,-17.5,-17,-16.5,-16,-15.5,-15,-14.5,-14,-13.5,-13,-12.5,-12,-11.5,-11,-10.5,-10,-9.5,-9,-8.5,-8,-7.5,-7,-6.5,-6,-5.5,-5,-4.5,-4,-3.5,-3,-2.5,-2,-1.5,-1,-0.5,0], "labels": false, "tickSize": -4, "title": null}},
         "y": {"field": "v", "type": "quantitative", "scale": {"type": "log", "domain": [10, 215], "nice": false}, "axis": {"orient": "right", "values": [10,20,30,40,50,60,70,80,90,100,200], "labels": false, "title": null}}
       }}
    ],
    "resolve": {"axis": {"x": "independent", "y": "independent"}}
  },
  {
    "width": 464, "height": 66,
    "data": {"name": "B"},
    "layer": [
      {"mark": {"type": "line", "color": "black", "strokeWidth": 1},
       "encoding": {
         "x": {"field": "t", "type": "quantitative", "scale": {"domain": [-24, 0], "nice": false, "zero": false}, "axis": {"orient": "bottom", "values": [-24,-23.5,-23,-22.5,-22,-21.5,-21,-20.5,-20,-19.5,-19,-18.5,-18,-17.5,-17,-16.5,-16,-15.5,-15,-14.5,-14,-13.5,-13,-12.5,-12,-11.5,-11,-10.5,-10,-9.5,-9,-8.5,-8,-7.5,-7,-6.5,-6,-5.5,-5,-4.5,-4,-3.5,-3,-2.5,-2,-1.5,-1,-0.5,0], "labels": false, "tickSize": -4, "title": null}},
         "y": {"field": "v", "type": "quantitative", "scale": {"domain": [0, 45], "nice": false, "zero": false}, "axis": {"orient": "left", "values": [0,10,20,30,40], "labels": false, "title": null}}
       }},
      {"mark": {"type": "line", "opacity": 0},
       "encoding": {
         "x": {"field": "t", "type": "quantitative", "scale": {"domain": [-24, 0], "nice": false, "zero": false}, "axis": {"orient": "top", "values": [-24,-23.5,-23,-22.5,-22,-21.5,-21,-20.5,-20,-19.5,-19,-18.5,-18,-17.5,-17,-16.5,-16,-15.5,-15,-14.5,-14,-13.5,-13,-12.5,-12,-11.5,-11,-10.5,-10,-9.5,-9,-8.5,-8,-7.5,-7,-6.5,-6,-5.5,-5,-4.5,-4,-3.5,-3,-2.5,-2,-1.5,-1,-0.5,0], "labels": false, "tickSize": -4, "title": null}},
         "y": {"field": "v", "type": "quantitative", "scale": {"domain": [0, 45], "nice": false, "zero": false}, "axis": {"orient": "right", "values": [0,5,10,15,20,25,30,35,40], "labelExpr": "datum.value==0||datum.value==40?format(datum.value,'d'):''", "title": "|B|,nT", "titleAngle": 270, "titlePadding": 15}}
       }}
    ],
    "resolve": {"axis": {"x": "independent", "y": "independent"}}
  },
  {
    "width": 464, "height": 65,
    "layer": [
      {"data": {"name": "TH"},
       "mark": {"type": "square", "color": "black", "size": 2, "opacity": 1},
       "encoding": {
         "x": {"field": "t", "type": "quantitative", "scale": {"domain": [-24, 0], "nice": false, "zero": false}, "axis": {"orient": "bottom", "values": [-24,-23.5,-23,-22.5,-22,-21.5,-21,-20.5,-20,-19.5,-19,-18.5,-18,-17.5,-17,-16.5,-16,-15.5,-15,-14.5,-14,-13.5,-13,-12.5,-12,-11.5,-11,-10.5,-10,-9.5,-9,-8.5,-8,-7.5,-7,-6.5,-6,-5.5,-5,-4.5,-4,-3.5,-3,-2.5,-2,-1.5,-1,-0.5,0], "labels": false, "tickSize": -4, "title": null}},
         "y": {"field": "v", "type": "quantitative", "scale": {"domain": [-90, 90], "nice": false, "zero": false}, "axis": {"orient": "left", "values": [-90,-60,-30,0,30,60,90], "labelExpr": "datum.value==-90||datum.value==0||datum.value==90?format(datum.value,'d'):''", "labelFlush": true, "title": "θB", "titlePadding": 14}}
       }},
      {"data": {"name": "TH"},
       "mark": {"type": "square", "opacity": 0},
       "encoding": {
         "x": {"field": "t", "type": "quantitative", "scale": {"domain": [-24, 0], "nice": false, "zero": false}, "axis": {"orient": "top", "values": [-24,-23.5,-23,-22.5,-22,-21.5,-21,-20.5,-20,-19.5,-19,-18.5,-18,-17.5,-17,-16.5,-16,-15.5,-15,-14.5,-14,-13.5,-13,-12.5,-12,-11.5,-11,-10.5,-10,-9.5,-9,-8.5,-8,-7.5,-7,-6.5,-6,-5.5,-5,-4.5,-4,-3.5,-3,-2.5,-2,-1.5,-1,-0.5,0], "labels": false, "tickSize": -4, "title": null}},
         "y": {"field": "v", "type": "quantitative", "scale": {"domain": [-90, 90], "nice": false, "zero": false}, "axis": {"orient": "right", "values": [-90,-60,-30,0,30,60,90], "labels": false, "title": null}}
       }},
      {"mark": {"type": "rule", "color": "black", "strokeDash": [10, 5], "strokeWidth": 1},
       "encoding": {"y": {"datum": 0, "axis": null}}}
    ],
    "resolve": {"axis": {"x": "independent", "y": "independent"}}
  },
  {
    "width": 464, "height": 67,
    "layer": [
      {"data": {"name": "PH"},
       "mark": {"type": "square", "color": "black", "size": 2, "opacity": 1},
       "encoding": {
         "x": {"field": "t", "type": "quantitative", "scale": {"domain": [-24, 0], "nice": false, "zero": false}, "axis": {"orient": "bottom", "values": [-24,-23.5,-23,-22.5,-22,-21.5,-21,-20.5,-20,-19.5,-19,-18.5,-18,-17.5,-17,-16.5,-16,-15.5,-15,-14.5,-14,-13.5,-13,-12.5,-12,-11.5,-11,-10.5,-10,-9.5,-9,-8.5,-8,-7.5,-7,-6.5,-6,-5.5,-5,-4.5,-4,-3.5,-3,-2.5,-2,-1.5,-1,-0.5,0], "labels": false, "tickSize": -4, "title": null}},
         "y": {"field": "v", "type": "quantitative", "scale": {"domain": [0, 360], "nice": false, "zero": false}, "axis": {"orient": "left", "values": [0,45,90,135,180,225,270,315,360], "labels": false, "title": null}}
       }},
      {"data": {"name": "PH"},
       "mark": {"type": "square", "opacity": 0},
       "encoding": {
         "x": {"field": "t", "type": "quantitative", "scale": {"domain": [-24, 0], "nice": false, "zero": false}, "axis": {"orient": "top", "values": [-24,-23.5,-23,-22.5,-22,-21.5,-21,-20.5,-20,-19.5,-19,-18.5,-18,-17.5,-17,-16.5,-16,-15.5,-15,-14.5,-14,-13.5,-13,-12.5,-12,-11.5,-11,-10.5,-10,-9.5,-9,-8.5,-8,-7.5,-7,-6.5,-6,-5.5,-5,-4.5,-4,-3.5,-3,-2.5,-2,-1.5,-1,-0.5,0], "labels": false, "tickSize": -4, "title": null}},
         "y": {"field": "v", "type": "quantitative", "scale": {"domain": [0, 360], "nice": false, "zero": false}, "axis": {"orient": "right", "values": [0,45,90,135,180,225,270,315,360], "labelExpr": "datum.value==0||datum.value==180||datum.value==360?format(datum.value,'d'):''", "labelFlush": true, "title": "φB", "titleAngle": 270, "titlePadding": 14}}
       }},
      {"mark": {"type": "rule", "color": "black", "strokeDash": [10, 5], "strokeWidth": 1},
       "encoding": {"y": {"datum": 180, "axis": null}}}
    ],
    "resolve": {"axis": {"x": "independent", "y": "independent"}}
  },
  {
    "width": 464, "height": 86,
    "view": {"stroke": null},
    "layer": [
      {"data": {"name": "tbl"}, "transform": [{"filter": "datum.r <= 1"}],
       "mark": {"type": "text", "align": "center", "baseline": "middle"},
       "encoding": {
         "x": {"field": "t", "type": "quantitative", "scale": {"domain": [-24, 0], "nice": false, "zero": false}, "axis": null},
         "y": {"field": "r", "type": "quantitative", "scale": {"domain": [-1.422, 6.222], "reverse": true, "nice": false, "zero": false}, "axis": null},
         "text": {"field": "s"}
       }},
      {"data": {"name": "tbl"}, "transform": [{"filter": "datum.r >= 2"}],
       "mark": {"type": "text", "align": "right", "baseline": "middle", "dx": 11},
       "encoding": {
         "x": {"field": "t", "type": "quantitative", "scale": {"domain": [-24, 0], "nice": false, "zero": false}, "axis": null},
         "y": {"field": "r", "type": "quantitative", "scale": {"domain": [-1.422, 6.222], "reverse": true, "nice": false, "zero": false}, "axis": null},
         "text": {"field": "s"}
       }},
      {"data": {"name": "rowlab"},
       "mark": {"type": "text", "align": "left", "baseline": "middle"},
       "encoding": {
         "x": {"datum": -26.43, "type": "quantitative", "scale": {"domain": [-24, 0], "nice": false, "zero": false}, "axis": null},
         "y": {"field": "r", "type": "quantitative", "scale": {"domain": [-1.422, 6.222], "reverse": true, "nice": false, "zero": false}, "axis": null},
         "text": {"field": "s"}
       }},
      {"data": {"name": "notes"},
       "mark": {"type": "text", "align": "left", "baseline": "middle"},
       "encoding": {
         "x": {"field": "t", "type": "quantitative", "scale": {"domain": [-24, 0], "nice": false, "zero": false}, "axis": null},
         "y": {"field": "r", "type": "quantitative", "scale": {"domain": [-1.422, 6.222], "reverse": true, "nice": false, "zero": false}, "axis": null},
         "text": {"field": "s"}
       }}
    ]
  }
]
}
